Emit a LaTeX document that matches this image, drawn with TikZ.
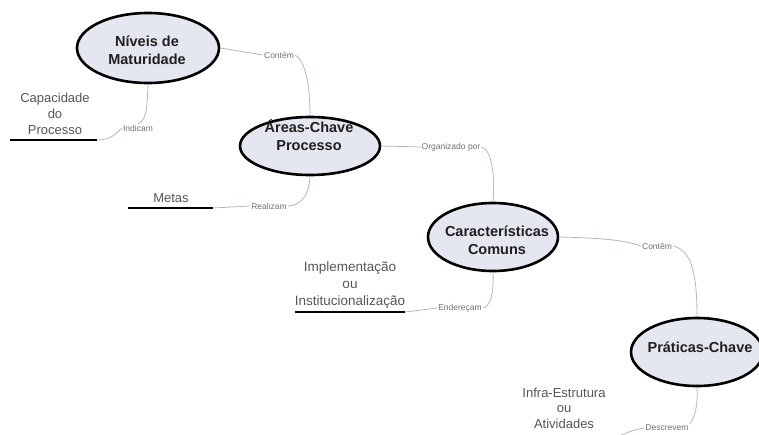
\documentclass[tikz,border=0pt]{standalone}
\usepackage{fontspec}
\setmainfont{Liberation Sans}
\usetikzlibrary{shapes.geometric}
\definecolor{conceptfill}{HTML}{E4E7EF}
\definecolor{linkgray}{HTML}{B0B7C8}
\definecolor{leafgray}{HTML}{555555}
\definecolor{labelgray}{HTML}{707070}

\begin{document}
\begin{tikzpicture}[x=1pt,y=-1pt,
  concept/.style={ellipse, draw=black, line width=2.6pt, fill=conceptfill, inner sep=0pt},
  conceptText/.style={font=\bfseries\fontsize{14.5}{18}\selectfont, align=center, text=black!88, inner sep=0pt},
  leaf/.style={font=\fontsize{13}{16}\selectfont, align=center, text=leafgray, inner sep=0pt},
  linkword/.style={font=\fontsize{8.5}{9}\selectfont, text=labelgray, inner sep=1pt},
  link/.style={draw=linkgray, line width=0.8pt},
  underbar/.style={draw=black, line width=2.8pt}
]
\useasboundingbox (0,0) rectangle (759,434);

% concept ellipses
\node[concept, minimum width=142pt, minimum height=70pt] (n1) at (148,48) {};
\node[concept, minimum width=140pt, minimum height=58pt] (n2) at (310,146) {};
\node[concept, minimum width=130pt, minimum height=68pt] (n3) at (493,237) {};
\node[concept, minimum width=132pt, minimum height=68pt] (n4) at (697,352) {};

% leaf texts with their underlines
\node[leaf] (cap) at (55,114) {Capacidade\\do\\Processo};
\coordinate (capL) at (10,140);
\coordinate (capR) at (97,140);
\node[leaf] (met) at (171,198) {Metas};
\coordinate (metL) at (128,208);
\coordinate (metR) at (213,208);
\node[leaf, font=\fontsize{13.5}{17}\selectfont] (imp) at (350,285) {Implementação\\ou\\Institucionalização};
\coordinate (impL) at (295,312);
\coordinate (impR) at (405,312);
\node[leaf, font=\fontsize{13}{15.5}\selectfont] (inf) at (564,408) {Infra-Estrutura\\ou\\Atividades};
\coordinate (infL) at (520,441);
\coordinate (infR) at (608,441);

% linking words
\node[linkword] (cl1) at (279,55) {Contém};
\node[linkword] (il) at (138,128) {Indicam};
\node[linkword] (rl) at (269,206) {Realizam};
\node[linkword] (ol) at (451,147) {Organizado por};
\node[linkword] (el) at (460,308) {Endereçam};
\node[linkword] (cl2) at (657,246) {Contêm};
\node[linkword] (dl) at (667,428) {Descrevem};

% connectors
\draw[link] (n1.east) -- (cl1.west);
\draw[link] (cl1.east) .. controls (304,60) and (310,80) .. (n2.north);
\draw[link] (n1.south) .. controls (147,112) and (146,120) .. (il.north);
\draw[link] (capR) .. controls (112,140) and (116,133) .. (il.west);
\draw[link] (n2.south) .. controls (309,195) and (302,205) .. (rl.east);
\draw[link] (metR) -- (rl.west);
\draw[link] (n2.east) -- (ol.west);
\draw[link] (ol.east) .. controls (492,150) and (495,175) .. (n3.north);
\draw[link] (n3.south) .. controls (494,296) and (490,306) .. (el.east);
\draw[link] (impR) -- (el.west);
\draw[link] (n3.east) .. controls (600,238) and (625,240) .. (cl2.west);
\draw[link] (cl2.east) .. controls (692,250) and (697,275) .. (n4.north);
\draw[link] (n4.south) .. controls (698,405) and (695,418) .. (dl.north east);
\draw[link] (infR) .. controls (620,436) and (630,430) .. (dl.west);

% underlines
\draw[underbar] (capL) -- (capR);
\draw[underbar] (metL) -- (metR);
\draw[underbar] (impL) -- (impR);
\draw[underbar] (infL) -- (infR);

% concept texts
\node[conceptText] (t1) at (147,50) {Níveis de\\Maturidade};
\node[conceptText] (t2) at (309,135) {Áreas-Chave\\Processo};
\node[conceptText] (t3) at (497,240) {Características\\Comuns};
\node[conceptText] (t4) at (700,347) {Práticas-Chave};
\end{tikzpicture}
\end{document}
